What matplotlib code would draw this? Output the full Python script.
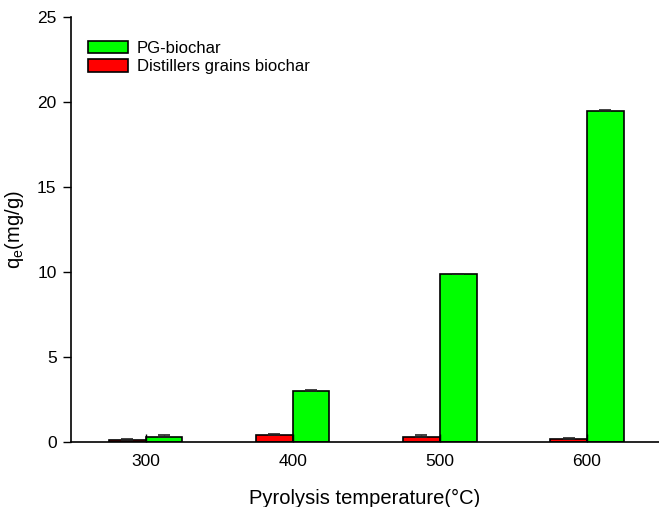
import matplotlib
matplotlib.use("Agg")
import matplotlib.pyplot as plt
import numpy as np
from matplotlib.patches import Patch

plt.rcParams['font.family'] = ['Liberation Sans', 'DejaVu Sans']

temperatures = ["300", "400", "500", "600"]
pg_biochar = [0.29, 3.0, 9.85, 19.5]
pg_err = [0.08, 0.03, 0.05, 0.05]
dg_biochar = [0.12, 0.37, 0.25, 0.16]
dg_err = [0.04, 0.10, 0.15, 0.06]

fig = plt.figure(figsize=(6.59, 5.07), dpi=100)
ax = fig.add_axes([0.107, 0.129, 0.893, 0.8365])

x = np.arange(1, len(temperatures) + 1)
w = 0.25
ax.bar(x - w / 2, dg_biochar, w, color="#ff0000", edgecolor="black", linewidth=1.2)
ax.bar(x + w / 2, pg_biochar, w, color="#00ff00", edgecolor="black", linewidth=1.2)
ax.errorbar(x - w / 2, dg_biochar, yerr=[np.zeros(4), dg_err], fmt="none",
            ecolor="#222222", elinewidth=1, capsize=4, capthick=1.2)
ax.errorbar(x + w / 2, pg_biochar, yerr=[np.zeros(4), pg_err], fmt="none",
            ecolor="#222222", elinewidth=1, capsize=4, capthick=1.2)

ax.set_xlim(0.49, 4.49)
ax.set_ylim(0, 25)
ax.set_xticks(x)
ax.set_xticklabels(temperatures)
ax.set_yticks([0, 5, 10, 15, 20, 25])
ax.tick_params(axis="y", direction="out", length=6, width=1, labelsize=12.5, pad=4)
ax.tick_params(axis="x", direction="in", length=6, width=1, labelsize=12.5, pad=9)

for side in ("top", "right"):
    ax.spines[side].set_visible(False)
for side in ("left", "bottom"):
    ax.spines[side].set_linewidth(1.2)

ax.set_xlabel("Pyrolysis temperature(°C)", fontsize=14.5, labelpad=14)
ax.set_ylabel("q$_\\mathregular{e}$(mg/g)", fontsize=14.5, labelpad=8)

handles = [Patch(facecolor="#00ff00", edgecolor="black", linewidth=1.2),
           Patch(facecolor="#ff0000", edgecolor="black", linewidth=1.2)]
ax.legend(handles, ["PG-biochar", "Distillers grains biochar"], loc="upper left",
          bbox_to_anchor=(0.005, 0.98), frameon=False, fontsize=12,
          handlelength=2.35, handleheight=0.75, handletextpad=0.55, labelspacing=0.2)

fig.savefig("out.png", dpi=100)
